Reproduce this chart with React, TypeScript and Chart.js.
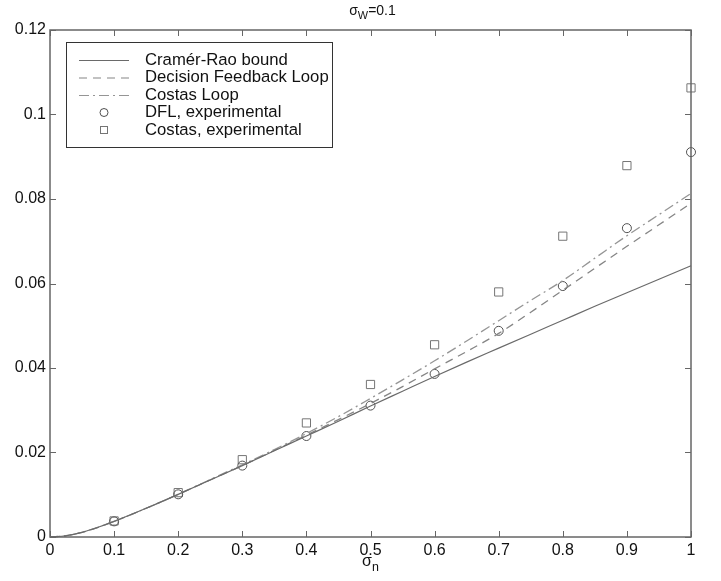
import React, { useEffect, useRef } from "react";
import { Chart, registerables } from "chart.js";

Chart.register(...registerables);

// ---- data ----
const curveX = [0, 0.025, 0.05, 0.075, 0.1, 0.15, 0.2, 0.25, 0.3, 0.35, 0.4, 0.45, 0.5, 0.55, 0.6, 0.65, 0.7, 0.75, 0.8, 0.85, 0.9, 0.95, 1];
const cramerRao = [0, 0.0003, 0.0011, 0.0023, 0.0037, 0.0068, 0.0101, 0.0135, 0.0169, 0.0204, 0.0239, 0.0274, 0.031, 0.0345, 0.038, 0.0414, 0.0447, 0.048, 0.0513, 0.0546, 0.0578, 0.061, 0.0642];
const dflCurve = [0, 0.0003, 0.0011, 0.0023, 0.0037, 0.0068, 0.0101, 0.0135, 0.0169, 0.0205, 0.0241, 0.0278, 0.0316, 0.0356, 0.0398, 0.0439, 0.0482, 0.0532, 0.0584, 0.0636, 0.0688, 0.0739, 0.079];
const costasCurve = [0, 0.0003, 0.0011, 0.0023, 0.0037, 0.0068, 0.0101, 0.0136, 0.0171, 0.0207, 0.0245, 0.0285, 0.0328, 0.0372, 0.0417, 0.0464, 0.0512, 0.056, 0.0607, 0.066, 0.0713, 0.0763, 0.0813];

const expX = [0.1, 0.2, 0.3, 0.4, 0.5, 0.6, 0.7, 0.8, 0.9, 1.0];
const dflExp = [0.0037, 0.0101, 0.0169, 0.0239, 0.0311, 0.0386, 0.0488, 0.0594, 0.0731, 0.0911];
const costasExp = [0.0038, 0.0105, 0.0183, 0.027, 0.0361, 0.0455, 0.058, 0.0712, 0.0879, 0.1063];

const xTickLabels = ["0", "0.1", "0.2", "0.3", "0.4", "0.5", "0.6", "0.7", "0.8", "0.9", "1"];
const yTickLabels = ["0", "0.02", "0.04", "0.06", "0.08", "0.1", "0.12"];

const legendLabels = ["Cramér-Rao bound", "Decision Feedback Loop", "Costas Loop", "DFL, experimental", "Costas, experimental"];

const FONT = "'Liberation Sans', Arial, Helvetica, sans-serif";
const C_SOLID = "#6a6a6a";
const C_DASH = "#858585";
const C_DASHDOT = "#959595";
const C_CIRCLE = "#505050";
const C_SQUARE = "#757575";
const C_AXIS = "#666666";

const pts = (xs: number[], ys: number[]) => xs.map((x, i) => ({ x, y: ys[i] }));

const decorPlugin = {
  id: "decor",
  afterDraw(chart: any) {
    const { ctx, chartArea } = chart;
    const { left, right, top, bottom } = chartArea;
    const xs = chart.scales.x;
    const ys = chart.scales.y;
    ctx.save();
    // frame
    ctx.strokeStyle = C_AXIS;
    ctx.lineWidth = 1.5;
    ctx.strokeRect(left, top, right - left, bottom - top);
    // inward ticks
    ctx.lineWidth = 1;
    const tl = 6;
    xs.ticks.forEach((t: any) => {
      const px = Math.round(xs.getPixelForValue(t.value)) + 0.5;
      ctx.beginPath();
      ctx.moveTo(px, bottom);
      ctx.lineTo(px, bottom - tl);
      ctx.moveTo(px, top);
      ctx.lineTo(px, top + tl);
      ctx.stroke();
    });
    ys.ticks.forEach((t: any) => {
      const py = Math.round(ys.getPixelForValue(t.value)) + 0.5;
      ctx.beginPath();
      ctx.moveTo(left, py);
      ctx.lineTo(left + tl, py);
      ctx.moveTo(right, py);
      ctx.lineTo(right - tl, py);
      ctx.stroke();
    });

    const drawSub = (base: string, sub: string, rest: string, cx: number, cy: number, size: number) => {
      ctx.fillStyle = "#111";
      ctx.textBaseline = "middle";
      ctx.textAlign = "left";
      ctx.font = `${size}px ${FONT}`;
      const wb = ctx.measureText(base).width;
      ctx.font = `${size * 0.78}px ${FONT}`;
      const ws = ctx.measureText(sub).width;
      ctx.font = `${size}px ${FONT}`;
      const wr = ctx.measureText(rest).width;
      let x0 = cx - (wb + ws + wr) / 2;
      ctx.fillText(base, x0, cy);
      x0 += wb;
      ctx.font = `${size * 0.78}px ${FONT}`;
      ctx.fillText(sub, x0, cy + size * 0.35);
      x0 += ws;
      ctx.font = `${size}px ${FONT}`;
      ctx.fillText(rest, x0, cy);
    };
    const cx = (left + right) / 2;
    drawSub("σ", "W", "=0.1", cx + 2, 11, 14);
    drawSub("σ", "n", "", cx, 562, 16);

    // legend
    const bx = 66, by = 42, bw = 266, bh = 105;
    ctx.fillStyle = "#fff";
    ctx.fillRect(bx, by, bw, bh);
    ctx.strokeStyle = "#333";
    ctx.lineWidth = 1;
    ctx.strokeRect(bx + 0.5, by + 0.5, bw, bh);
    const rowY = [60, 77.5, 95, 112.5, 130];
    const lx0 = 79, lx1 = 129, mx = 104, tx = 145;
    ctx.font = `16.7px ${FONT}`;
    ctx.textBaseline = "middle";
    ctx.textAlign = "left";
    legendLabels.forEach((lab, i) => {
      const y = rowY[i];
      ctx.save();
      if (i === 0) {
        ctx.strokeStyle = C_SOLID; ctx.lineWidth = 1.2; ctx.setLineDash([]);
      } else if (i === 1) {
        ctx.strokeStyle = C_DASH; ctx.lineWidth = 1.2; ctx.setLineDash([8, 6]);
      } else if (i === 2) {
        ctx.strokeStyle = C_DASHDOT; ctx.lineWidth = 1.2; ctx.setLineDash([10, 4, 2, 4]);
      }
      if (i <= 2) {
        ctx.beginPath();
        ctx.moveTo(lx0, y + 0.5);
        ctx.lineTo(lx1, y + 0.5);
        ctx.stroke();
      } else if (i === 3) {
        ctx.strokeStyle = C_CIRCLE; ctx.lineWidth = 1;
        ctx.beginPath();
        ctx.arc(mx, y, 4, 0, Math.PI * 2);
        ctx.stroke();
      } else {
        ctx.strokeStyle = C_SQUARE; ctx.lineWidth = 1;
        ctx.strokeRect(mx - 3.5, y - 3.5, 7, 7);
      }
      ctx.restore();
      ctx.fillStyle = "#111";
      ctx.fillText(lab, tx, y);
    });
    ctx.restore();
  },
};

export default function App() {
  const ref = useRef<HTMLCanvasElement | null>(null);
  useEffect(() => {
    document.body.style.margin = "0";
    const canvas = ref.current!;
    const chart = new Chart(canvas, {
      type: "scatter",
      data: {
        datasets: [
          {
            label: legendLabels[0],
            data: pts(curveX, cramerRao),
            showLine: true,
            borderColor: C_SOLID,
            borderWidth: 1.2,
            pointRadius: 0,
            cubicInterpolationMode: "monotone",
          },
          {
            label: legendLabels[1],
            data: pts(curveX, dflCurve),
            showLine: true,
            borderColor: C_DASH,
            borderWidth: 1.3,
            borderDash: [8, 6],
            pointRadius: 0,
            cubicInterpolationMode: "monotone",
          },
          {
            label: legendLabels[2],
            data: pts(curveX, costasCurve),
            showLine: true,
            borderColor: C_DASHDOT,
            borderWidth: 1.3,
            borderDash: [10, 4, 2, 4],
            pointRadius: 0,
            cubicInterpolationMode: "monotone",
          },
          {
            label: legendLabels[3],
            data: pts(expX, dflExp),
            showLine: false,
            pointStyle: "circle",
            pointRadius: 4.5,
            borderColor: C_CIRCLE,
            backgroundColor: "rgba(0,0,0,0)",
            borderWidth: 1,
          },
          {
            label: legendLabels[4],
            data: pts(expX, costasExp),
            showLine: false,
            pointStyle: "rect",
            pointRadius: 5.8,
            borderColor: C_SQUARE,
            backgroundColor: "rgba(0,0,0,0)",
            borderWidth: 1,
          },
        ],
      },
      options: {
        responsive: false,
        animation: false,
        events: [],
        clip: false as any,
        layout: { padding: { top: 30, right: 30, left: 0, bottom: 0 } },
        plugins: {
          legend: { display: false },
          title: { display: false },
          tooltip: { enabled: false },
        },
        scales: {
          x: {
            type: "linear",
            min: 0,
            max: 1,
            grid: { display: false, drawTicks: false },
            border: { display: false },
            ticks: {
              stepSize: 0.1,
              padding: 4,
              color: "#111",
              font: { family: FONT, size: 16 },
              maxRotation: 0,
              callback: (v: any) => {
                const i = Math.round(Number(v) * 10);
                return xTickLabels[i] ?? "";
              },
            },
            afterFit: (s: any) => { s.height = 44; },
          },
          y: {
            type: "linear",
            min: 0,
            max: 0.12,
            grid: { display: false, drawTicks: false },
            border: { display: false },
            ticks: {
              stepSize: 0.02,
              padding: 4,
              color: "#111",
              font: { family: FONT, size: 16 },
              callback: (v: any) => {
                const i = Math.round(Number(v) / 0.02);
                return yTickLabels[i] ?? "";
              },
            },
            afterFit: (s: any) => { s.width = 50; },
          },
        },
      },
      plugins: [decorPlugin],
    });
    return () => chart.destroy();
  }, []);
  return (
    <div style={{ position: "absolute", left: 0, top: 0, width: 721, height: 581, background: "#fff" }}>
      <canvas ref={ref} width={721} height={581} />
    </div>
  );
}
